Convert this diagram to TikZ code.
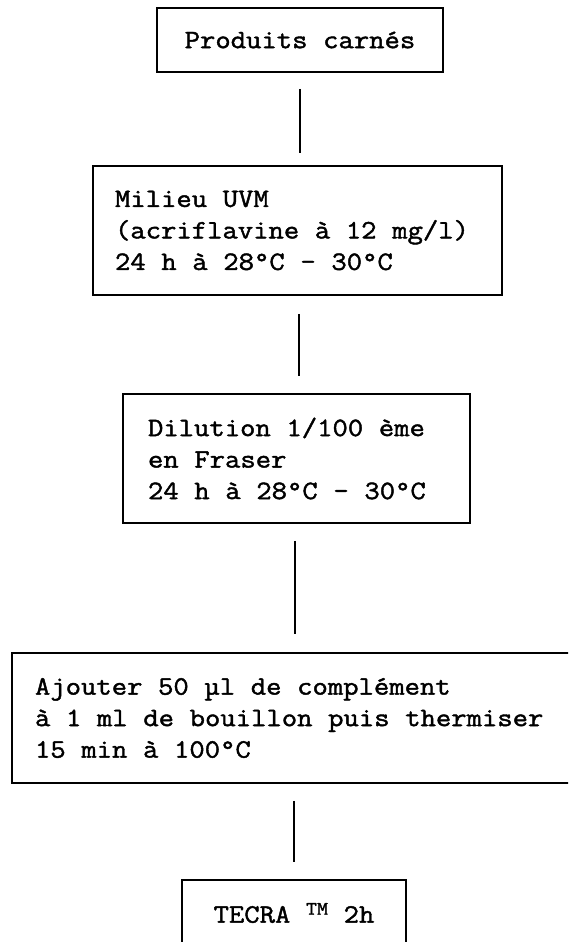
\documentclass[tikz,border=0pt]{standalone}
\usepackage{fontspec}
\setmonofont[FakeStretch=1.125,FakeBold=1.6]{Latin Modern Mono}
\newcommand{\boxfont}{\ttfamily\fontsize{26.5}{31.5}\selectfont}
\newcommand{\fixspaces}{\spaceskip=15.65pt\relax\xspaceskip=15.65pt\relax}
\newcommand{\tmmark}{\raisebox{8pt}{\fontsize{19}{19}\selectfont TM}}
\begin{document}
\begin{tikzpicture}[x=1pt,y=1pt,
  box/.style={draw,line width=1.6pt,inner sep=0pt,font=\boxfont,
    execute at begin node=\fixspaces},
  link/.style={line width=1.3pt}]
\useasboundingbox (0,0) rectangle (568,-942);
\clip (0,0) rectangle (568,-942);
\node[box,minimum width=286pt,minimum height=64pt,align=center] (b1) at (300,-40) {Produits carnés};
\node[box,minimum width=409pt,minimum height=129pt,text width=365pt,align=left] (b2) at (297.5,-230.5)
  {Milieu UVM\\(acriflavine à 12 mg/l)\\24 h à 28°C - 30°C};
\node[box,minimum width=347pt,minimum height=129pt,text width=297pt,align=left] (b3) at (296.5,-458.5)
  {Dilution 1/100 ème\\en Fraser\\24 h à 28°C - 30°C};
\node[box,minimum width=578pt,minimum height=130pt,text width=532pt,align=left] (b4) at (301,-718)
  {Ajouter 50 µl de complément\\à 1 ml de bouillon puis thermiser\\15 min à 100°C};
\node[box,minimum width=224pt,minimum height=66pt,align=center] (b5) at (294,-913)
  {TECRA \tmmark{} 2h};
\draw[link] ([yshift=-16pt]b1.south) -- ([xshift=2.5pt,yshift=12pt]b2.north);
\draw[link] ([xshift=1.5pt,yshift=-18pt]b2.south) -- ([xshift=2.5pt,yshift=17pt]b3.north);
\draw[link] ([xshift=-1.5pt,yshift=-17pt]b3.south) -- ([xshift=-6pt,yshift=18pt]b4.north);
\draw[link] ([xshift=-7pt,yshift=-17pt]b4.south) -- ([yshift=17pt]b5.north);
\end{tikzpicture}
\end{document}
